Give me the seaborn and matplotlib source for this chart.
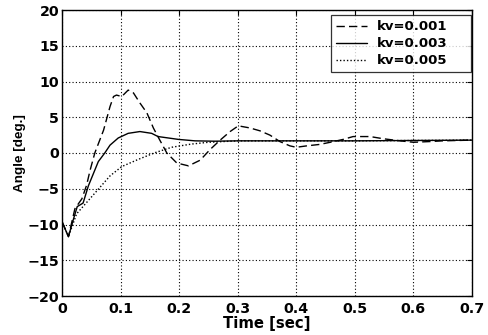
import numpy as np
import pandas as pd
import seaborn as sns
import matplotlib
matplotlib.use("Agg")
import matplotlib.pyplot as plt

# ---- data ----
t_001 = [0, 0.011, 0.022, 0.034, 0.042, 0.048, 0.056, 0.071, 0.082, 0.088, 0.093, 0.102,
         0.113, 0.122, 0.133, 0.145, 0.156, 0.167, 0.179, 0.196, 0.216, 0.236, 0.253, 0.27,
         0.287, 0.301, 0.321, 0.338, 0.355, 0.372, 0.389, 0.40, 0.418, 0.44, 0.458, 0.48,
         0.497, 0.526, 0.548, 0.577, 0.60, 0.628, 0.65, 0.70]
v_001 = [-9.6, -11.7, -7.8, -6.4, -4.5, -2.4, 0, 3.2, 6.5, 7.9, 8.1, 7.9,
         8.8, 8.4, 7.0, 5.6, 3.5, 1.8, 0, -1.4, -1.8, -1.0, 0.5, 1.8,
         3.0, 3.8, 3.5, 3.1, 2.5, 1.6, 1.0, 0.8, 1.0, 1.2, 1.5, 1.9,
         2.3, 2.3, 2.0, 1.7, 1.5, 1.6, 1.7, 1.8]

t_003 = [0, 0.011, 0.019, 0.026, 0.036, 0.045, 0.062, 0.073, 0.082, 0.096, 0.113, 0.133,
         0.153, 0.164, 0.199, 0.227, 0.26, 0.3, 0.4, 0.5, 0.6, 0.7]
v_003 = [-9.6, -11.7, -9.4, -7.5, -7.0, -4.6, -1.2, 0, 1.1, 2.1, 2.75, 3.0,
         2.75, 2.3, 1.9, 1.7, 1.65, 1.7, 1.7, 1.7, 1.75, 1.8]

t_005 = [0, 0.011, 0.025, 0.053, 0.082, 0.102, 0.13, 0.159, 0.187, 0.221, 0.25, 0.3,
         0.4, 0.5, 0.6, 0.7]
v_005 = [-9.6, -11.7, -8.5, -5.9, -3.2, -1.9, -0.9, 0.05, 0.8, 1.25, 1.5, 1.7,
         1.7, 1.7, 1.75, 1.8]

series_names = ["kv=0.001", "kv=0.003", "kv=0.005"]
x_ticks = [0, 0.1, 0.2, 0.3, 0.4, 0.5, 0.6, 0.7]
x_tick_labels = ["0", "0.1", "0.2", "0.3", "0.4", "0.5", "0.6", "0.7"]
y_ticks = [-20, -15, -10, -5, 0, 5, 10, 15, 20]

df = pd.concat([
    pd.DataFrame({"t": t_001, "v": v_001, "kv": series_names[0]}),
    pd.DataFrame({"t": t_003, "v": v_003, "kv": series_names[1]}),
    pd.DataFrame({"t": t_005, "v": v_005, "kv": series_names[2]}),
], ignore_index=True)

sns.set_style("white")
plt.rcParams["font.family"] = ["DejaVu Sans"]
plt.rcParams["font.weight"] = "bold"
plt.rcParams["text.color"] = "black"
plt.rcParams["axes.labelcolor"] = "black"
plt.rcParams["xtick.color"] = "black"
plt.rcParams["ytick.color"] = "black"

W, H = 489, 335
fig = plt.figure(figsize=(W / 100, H / 100), dpi=100)
ax = fig.add_axes([62 / W, 1 - 296 / H, (472 - 62) / W, (296 - 10) / H])

dashes = {series_names[0]: (6, 3), series_names[1]: "", series_names[2]: (1, 1.5)}
sns.lineplot(data=df, x="t", y="v", hue="kv", style="kv", dashes=dashes,
             palette=["black"] * 3, estimator=None, sort=False, lw=1.0, ax=ax)

ax.set_xlim(0, 0.7)
ax.set_ylim(-20, 20)
ax.set_xticks(x_ticks)
ax.set_xticklabels(x_tick_labels)
ax.set_yticks(y_ticks)
ax.grid(True, color="black", linestyle=(0, (1, 2)), linewidth=0.8)
for s in ax.spines.values():
    s.set_color("black")
    s.set_linewidth(1.0)
ax.tick_params(direction="in", length=3.5, width=0.8, labelsize=10.3, colors="black",
               top=True, right=True)
ax.tick_params(axis="x", pad=4)
ax.tick_params(axis="y", pad=2)
for lab in ax.get_xticklabels() + ax.get_yticklabels():
    lab.set_fontweight("bold")
ax.set_xlabel("Time [sec]", fontsize=10.7, fontweight="bold", labelpad=0, color="black")
ax.set_ylabel("Angle [deg.]", fontsize=9.7, fontweight="bold", labelpad=1, color="black",
              family=["Liberation Sans", "DejaVu Sans"])

leg = ax.legend(loc="upper left", mode="expand",
                bbox_to_anchor=(331 / W, 1 - 71 / H, 140 / W, 56 / H),
                bbox_transform=fig.transFigure,
                fontsize=9.5, frameon=True, fancybox=False,
                edgecolor="black", handlelength=2.3, borderaxespad=0,
                labelspacing=0.3, borderpad=0.4, handletextpad=0.75)
leg.get_frame().set_linewidth(0.9)
for txt in leg.get_texts():
    txt.set_fontweight("bold")
    txt.set_color("black")

fig.savefig("out.png", dpi=100, facecolor="white")
